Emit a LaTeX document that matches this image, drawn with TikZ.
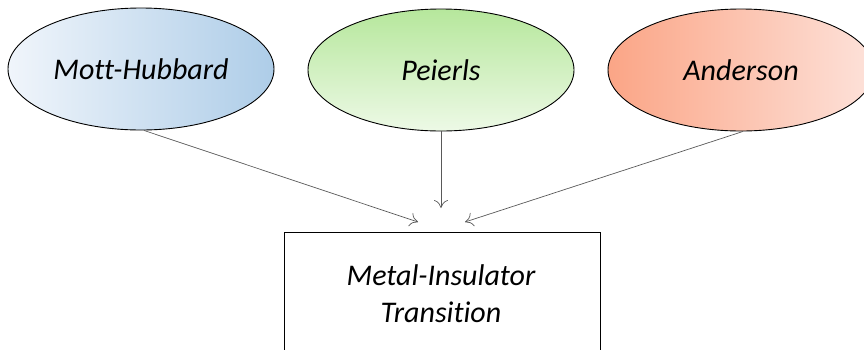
\documentclass[tikz,border=0pt]{standalone}
\usepackage{fontspec}
\setmainfont[Ligatures=NoCommon]{Carlito}
\usetikzlibrary{shapes.geometric,arrows.meta}
\definecolor{mhL}{HTML}{F0F5FB}
\definecolor{mhR}{HTML}{AECDE8}
\definecolor{peT}{HTML}{B6E79C}
\definecolor{peB}{HTML}{EDF9E6}
\definecolor{anL}{HTML}{FBA586}
\definecolor{anR}{HTML}{FDE2DA}
\begin{document}
\begin{tikzpicture}[x=1pt,y=-1pt,
  oval/.style={ellipse,draw=black,line width=0.9pt,minimum width=266pt,minimum height=122pt,inner sep=0pt,font=\itshape\fontsize{30}{36}\selectfont},
  conn/.style={draw=black!65,line width=0.7pt,-{To[length=8pt,width=14pt]}},
  mbox/.style={draw=black,line width=0.9pt,minimum width=316pt,minimum height=150pt,anchor=north},
  btext/.style={font=\itshape\fontsize{30}{37}\selectfont,align=center}]
\useasboundingbox (0,0) rectangle (864,349);
\clip (0,0) rectangle (864,349);
\node[oval,left color=mhL,right color=mhR] (mh) at (141,69) {Mott-Hubbard};
\node[oval,top color=peT,bottom color=peB] (pe) at (441,70) {Peierls};
\node[oval,left color=anL,right color=anR] (an) at (741,70) {Anderson};
\node[mbox] (mit) at (442,232) {};
\node[btext] (mtxt) at (441,294) {Metal-Insulator\\Transition};
\coordinate (t1) at (418,222);
\coordinate (t2) at (441,208);
\coordinate (t3) at (465,222);
\draw[conn] (mh.south) ++(3,0) coordinate (s1) -- (t1);
\draw[conn] (pe.south) -- (t2);
\draw[conn] (an.south) ++(2,0) coordinate (s3) -- (t3);
\end{tikzpicture}
\end{document}
